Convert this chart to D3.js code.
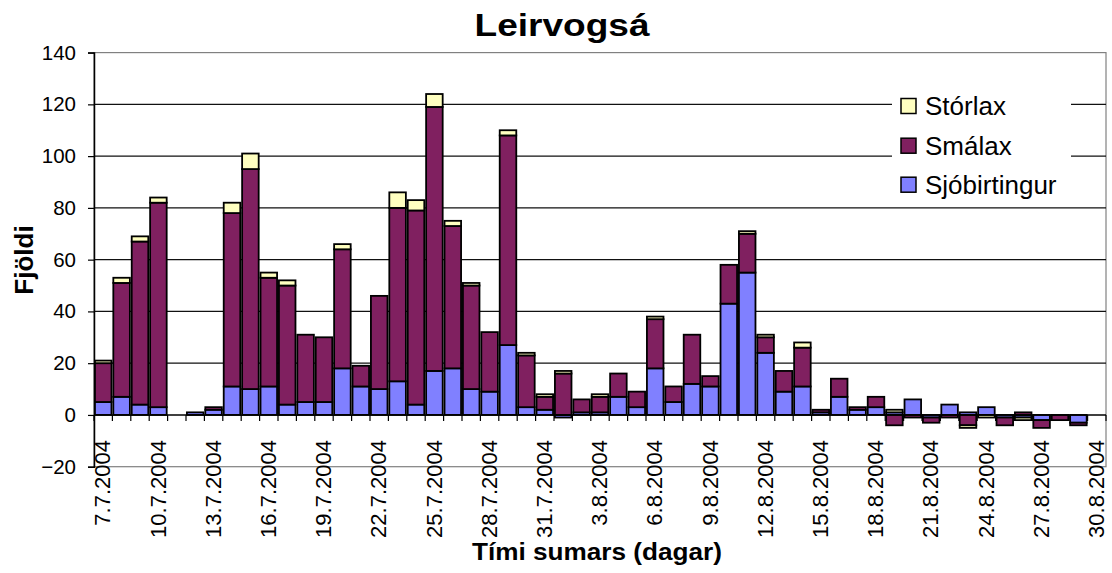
<!DOCTYPE html>
<html>
<head>
<meta charset="utf-8">
<script src="https://cdn.jsdelivr.net/npm/d3@7"></script>
<style>
  html, body { margin: 0; padding: 0; background: #fff; }
  svg { display: block; font-family: "Liberation Sans", Arial, sans-serif; }
</style>
</head>
<body>
<svg id="chart" width="1112" height="573"></svg>
<script>
// ---- Data ----
const dates = [
  "7.7.2004","8.7.2004","9.7.2004","10.7.2004","11.7.2004","12.7.2004","13.7.2004","14.7.2004",
  "15.7.2004","16.7.2004","17.7.2004","18.7.2004","19.7.2004","20.7.2004","21.7.2004","22.7.2004",
  "23.7.2004","24.7.2004","25.7.2004","26.7.2004","27.7.2004","28.7.2004","29.7.2004","30.7.2004",
  "31.7.2004","1.8.2004","2.8.2004","3.8.2004","4.8.2004","5.8.2004","6.8.2004","7.8.2004",
  "8.8.2004","9.8.2004","10.8.2004","11.8.2004","12.8.2004","13.8.2004","14.8.2004","15.8.2004",
  "16.8.2004","17.8.2004","18.8.2004","19.8.2004","20.8.2004","21.8.2004","22.8.2004","23.8.2004",
  "24.8.2004","25.8.2004","26.8.2004","27.8.2004","28.8.2004","29.8.2004","30.8.2004"
];
const sjobirtingur = [5,7,4,3,0,1,2,11,10,11,4,5,5,18,11,10,13,4,17,18,10,9,27,3,2,-1,1,1,7,3,18,5,12,11,43,55,24,9,11,1,7,2,3,1,6,-1,4,1,3,-1,-1,-2,0,-3,0];
const smalax       = [15,44,63,79,0,0,1,67,85,42,46,26,25,46,8,36,67,75,102,55,40,23,81,20,5,16,5,6,9,6,19,6,19,4,15,15,6,8,15,1,7,1,4,-4,-1,-2,-1,-4,0,-3,1,-3,-2,-1,0];
const storlax      = [1,2,2,2,0,0,0,4,6,2,2,0,0,2,0,0,6,4,5,2,1,0,2,1,1,1,0,1,0,0,1,0,0,0,0,1,1,0,2,0,0,0,0,1,0,0,0,-1,-1,0,-1,0,0,0,0];
const seriesNames  = ["Sjóbirtingur","Smálax","Stórlax"];
const seriesColors = ["#8080FF","#802060","#FFFFC0"];
const tickLabels = ["7.7.2004","10.7.2004","13.7.2004","16.7.2004","19.7.2004","22.7.2004","25.7.2004",
  "28.7.2004","31.7.2004","3.8.2004","6.8.2004","9.8.2004","12.8.2004","15.8.2004","18.8.2004",
  "21.8.2004","24.8.2004","27.8.2004","30.8.2004"];
const yTicks = [-20,0,20,40,60,80,100,120,140];
const titleText = "Leirvogsá";
const xTitle = "Tími sumars (dagar)";
const yTitle = "Fjöldi";

(function () {
// ---- Build table ----
const table = dates.map((d, i) => ({
  date: d,
  "Sjóbirtingur": sjobirtingur[i],
  "Smálax": smalax[i],
  "Stórlax": storlax[i]
}));

const svg = d3.select("#chart");
const pLeft = 94, pRight = 1106, pTop = 52.6, pBottom = 466.7;

const x = d3.scaleBand().domain(dates).range([pLeft, pRight]).paddingInner(0.1).paddingOuter(0.05);
const y = d3.scaleLinear().domain([-20, 140]).range([pBottom, pTop]);
const color = d3.scaleOrdinal().domain(seriesNames).range(seriesColors);

// plot border (gray)
svg.append("rect").attr("x", pLeft).attr("y", y(140)).attr("width", pRight - pLeft).attr("height", y(-20) - y(140))
  .attr("fill", "#fff").attr("stroke", "#808080").attr("stroke-width", 1.2);

// gridlines
svg.append("g").selectAll("line").data(yTicks.filter(v => v > 0 && v < 140)).join("line")
  .attr("x1", pLeft).attr("x2", pRight).attr("y1", d => y(d)).attr("y2", d => y(d))
  .attr("stroke", "#111").attr("stroke-width", 1.2);

// Legend box (white, hides gridlines)
const lg = svg.append("g");
lg.append("rect").attr("x", 892).attr("y", 86).attr("width", 179).attr("height", 117).attr("fill", "#fff");

// stacked bars
const stack = d3.stack().keys(seriesNames).offset(d3.stackOffsetDiverging);
const layers = stack(table);
svg.append("g").selectAll("g").data(layers).join("g")
  .attr("fill", d => color(d.key))
  .selectAll("rect").data(d => d.filter(p => p[1] - p[0] !== 0)).join("rect")
  .attr("x", d => x(d.data.date))
  .attr("width", x.bandwidth())
  .attr("y", d => y(Math.max(d[0], d[1])))
  .attr("height", d => Math.abs(y(d[0]) - y(d[1])))
  .attr("stroke", "#000").attr("stroke-width", 1.8);

// y axis
const yAxis = svg.append("g").attr("transform", `translate(${pLeft},0)`)
  .call(d3.axisLeft(y).tickValues(yTicks).tickSize(6).tickPadding(12).tickFormat(d3.format("d")));
yAxis.select(".domain").attr("stroke", "#000").attr("stroke-width", 1.5);
yAxis.selectAll(".tick line").attr("stroke", "#000").attr("stroke-width", 1.2);
yAxis.selectAll(".tick text").attr("font-size", "20.5px").attr("fill", "#000")
  .attr("font-family", "Liberation Sans, Arial, sans-serif");

// x axis line at 0 with ticks at band boundaries
svg.append("line").attr("x1", pLeft).attr("x2", pRight).attr("y1", y(0)).attr("y2", y(0))
  .attr("stroke", "#000").attr("stroke-width", 1.5);
const boundaries = d3.range(dates.length + 1).map(k => x.range()[0] + k * x.step());
svg.append("g").selectAll("line").data(boundaries).join("line")
  .attr("x1", d => d).attr("x2", d => d).attr("y1", y(0)).attr("y2", y(0) + 6)
  .attr("stroke", "#000").attr("stroke-width", 1.2);

// x tick labels
svg.append("g").selectAll("text").data(tickLabels).join("text")
  .attr("transform", d => `translate(${x(d) + x.bandwidth() / 2 - 0.5},440) rotate(-90)`)
  .attr("text-anchor", "end").attr("dy", "0.35em")
  .attr("font-size", "22px").attr("fill", "#000")
  .text(d => d);

// Legend entries (Stórlax on top)
const legendOrder = seriesNames.slice().reverse();
const rowY = [106, 145.7, 184.7];
legendOrder.forEach((name, i) => {
  lg.append("rect").attr("x", 901).attr("y", rowY[i] - 7.5).attr("width", 15).attr("height", 15)
    .attr("fill", color(name)).attr("stroke", "#000").attr("stroke-width", 1.5);
  lg.append("text").attr("x", 925).attr("y", rowY[i] + 9.3)
    .attr("font-size", "26px").attr("fill", "#000").text(name);
});

// Titles
svg.append("text").attr("x", 562).attr("y", 35.7).attr("text-anchor", "middle")
  .attr("font-size", "31px").attr("font-weight", "bold")
  .attr("textLength", 175).attr("lengthAdjust", "spacingAndGlyphs").text(titleText);
svg.append("text").attr("x", 597).attr("y", 560).attr("text-anchor", "middle")
  .attr("font-size", "23px").attr("font-weight", "bold")
  .attr("textLength", 250).attr("lengthAdjust", "spacingAndGlyphs").text(xTitle);
svg.append("text").attr("transform", "translate(33,260) rotate(-90)").attr("text-anchor", "middle")
  .attr("font-size", "26px").attr("font-weight", "bold").text(yTitle);
})();
</script>
</body>
</html>
